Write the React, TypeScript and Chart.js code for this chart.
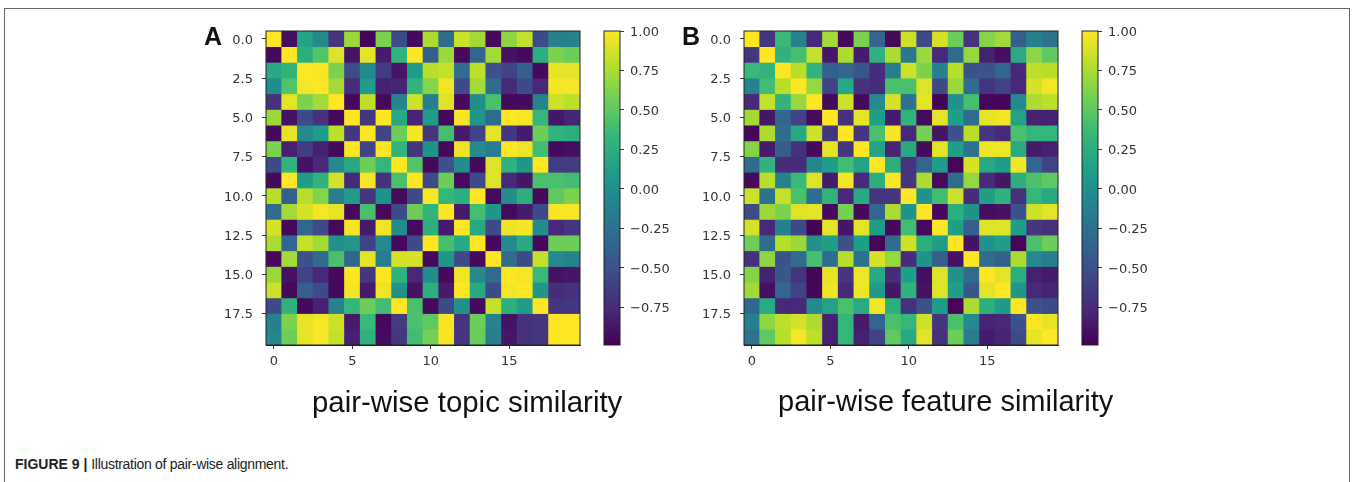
import React, { useEffect, useRef } from "react";
import { Chart, registerables } from "chart.js";

Chart.register(...registerables);

const topicSimilarity: number[][] = [
  [1, -0.92, 0.15, -0.05, -0.7, 0.7, -0.97, 0.6, -0.55, -0.95, 0.75, -0.3, 0.85, 0.72, -0.95, 0.65, 0.82, -0.55, -0.12, -0.1],
  [-0.95, 1, 0.25, 0.45, 0.9, -0.9, 0.92, -0.85, 0.3, 1, -0.4, 0.7, -0.95, -0.35, 0.72, -0.9, -0.95, 0.25, 0.6, 0.55],
  [0.2, 0.3, 1, 0.98, 0.6, -0.55, -0.05, -0.65, -0.88, 0.1, 0.78, 0.82, -0.3, 0.8, -0.5, -0.6, -0.4, -0.95, 0.93, 0.93],
  [-0.02, 0.45, 0.97, 1, 0.72, -0.75, 0.1, -0.82, -0.8, 0.3, 0.62, 0.95, -0.55, 0.72, -0.3, -0.78, -0.55, -0.78, 0.98, 0.98],
  [-0.72, 0.92, 0.6, 0.72, 1, -0.95, 0.8, -0.95, -0.1, 0.85, -0.15, 0.9, -0.95, -0.02, 0.42, -0.95, -0.95, -0.1, 0.85, 0.8],
  [0.7, -0.9, -0.55, -0.72, -0.95, 1, -0.68, 1, 0.2, -0.8, 0.1, -0.95, 0.98, 0.05, -0.3, 1, 0.97, 0.32, -0.88, -0.8],
  [-0.95, 0.93, -0.05, 0.1, 0.8, -0.68, 1, -0.6, 0.55, 0.98, -0.7, 0.4, -0.85, -0.6, 0.92, -0.68, -0.85, 0.55, 0.3, 0.25],
  [0.6, -0.82, -0.65, -0.82, -0.95, 1, -0.6, 1, 0.3, -0.7, 0.02, -0.95, 0.95, -0.05, -0.15, 1, 0.95, 0.38, -0.95, -0.92],
  [-0.55, 0.3, -0.9, -0.78, -0.05, 0.2, 0.55, 0.32, 1, 0.45, -0.95, -0.5, -0.02, -0.95, 0.9, 0.28, 0.05, 1, -0.65, -0.65],
  [-0.95, 1, 0.1, 0.28, 0.88, -0.78, 0.97, -0.72, 0.42, 1, -0.55, 0.55, -0.95, -0.55, 0.9, -0.78, -0.88, 0.42, 0.42, 0.38],
  [0.78, -0.4, 0.78, 0.62, -0.15, 0.1, -0.7, 0.02, -0.95, -0.55, 1, 0.32, 0.25, 1, -0.95, -0.02, 0.25, -0.95, 0.5, 0.6],
  [-0.3, 0.72, 0.88, 0.97, 0.92, -0.95, 0.42, -0.95, -0.55, 0.55, 0.3, 1, -0.85, 0.4, 0.05, -0.95, -0.85, -0.55, 0.98, 0.98],
  [0.88, -0.95, -0.35, -0.55, -0.95, 0.97, -0.85, 0.95, -0.02, -0.95, 0.25, -0.85, 1, 0.2, -0.55, 0.95, 0.98, -0.02, -0.78, -0.68],
  [0.75, -0.35, 0.82, 0.72, 0, 0.05, -0.6, -0.05, -0.95, -0.55, 1, 0.4, 0.2, 1, -0.95, -0.05, 0.2, -0.95, 0.55, 0.55],
  [-0.95, 0.72, -0.5, -0.3, 0.42, -0.35, 0.92, -0.15, 0.88, 0.88, -0.95, 0.05, -0.55, -0.95, 1, -0.3, -0.55, 0.82, -0.05, -0.1],
  [0.7, -0.9, -0.6, -0.78, -0.95, 1, -0.68, 1, 0.28, -0.78, -0.02, -0.95, 0.95, -0.05, -0.3, 1, 0.97, 0.35, -0.9, -0.88],
  [0.85, -0.95, -0.4, -0.55, -0.95, 0.97, -0.85, 0.95, 0.02, -0.9, 0.25, -0.85, 1, 0.2, -0.55, 0.97, 1, 0.05, -0.75, -0.72],
  [-0.55, 0.28, -0.95, -0.82, -0.1, 0.32, 0.55, 0.38, 1, 0.42, -0.95, -0.55, 0, -0.95, 0.82, 0.25, 0.1, 1, -0.7, -0.68],
  [-0.12, 0.6, 0.93, 0.98, 0.85, -0.85, 0.35, -0.95, -0.65, 0.42, 0.5, 0.98, -0.7, 0.55, -0.1, -0.9, -0.72, -0.7, 1, 1],
  [-0.08, 0.55, 0.93, 0.98, 0.82, -0.82, 0.28, -0.93, -0.68, 0.38, 0.58, 0.98, -0.68, 0.55, -0.15, -0.88, -0.72, -0.68, 1, 1],
];

const featureSimilarity: number[][] = [
  [1, -0.68, 0.35, -0.1, -0.78, 0.72, -0.95, 0.6, -0.35, -0.95, 0.85, -0.55, 0.88, 0.55, -0.72, 0.62, 0.72, -0.4, -0.12, -0.25],
  [-0.68, 1, 0.28, 0.4, 0.82, -0.88, 0.75, -0.85, 0.28, 0.75, -0.2, 0.7, -0.78, -0.3, 0.68, -0.82, -0.92, 0.22, 0.65, 0.5],
  [0.35, 0.3, 1, 0.78, 0.3, -0.4, -0.35, -0.45, -0.75, -0.15, 0.85, 0.6, -0.12, 0.78, -0.48, -0.5, -0.35, -0.78, 0.8, 0.78],
  [-0.1, 0.38, 0.78, 1, 0.68, -0.6, 0.2, -0.72, -0.75, 0.42, 0.42, 0.9, -0.55, 0.7, -0.3, -0.7, -0.6, -0.78, 0.88, 0.97],
  [-0.78, 0.82, 0.3, 0.68, 1, -0.95, 0.85, -0.95, -0.05, 0.88, -0.25, 0.92, -0.98, 0, 0.4, -0.97, -0.97, -0.05, 0.75, 0.8],
  [0.72, -0.88, -0.35, -0.6, -0.95, 1, -0.72, 0.93, 0.12, -0.85, 0.3, -0.95, 0.92, 0.12, -0.3, 0.93, 0.95, 0.15, -0.82, -0.82],
  [-0.97, 0.75, -0.3, 0.2, 0.85, -0.7, 1, -0.68, 0.42, 0.98, -0.78, 0.58, -0.88, -0.5, 0.78, -0.68, -0.78, 0.42, 0.32, 0.32],
  [0.62, -0.85, -0.42, -0.72, -0.95, 0.92, -0.68, 1, 0.15, -0.8, 0.2, -0.95, 0.92, 0.12, -0.25, 0.95, 0.95, 0.22, -0.85, -0.82],
  [-0.3, 0.28, -0.75, -0.75, -0.08, 0.1, 0.38, 0.15, 1, 0.25, -0.7, -0.35, 0.1, -0.97, 0.88, 0.2, 0.1, 0.97, -0.35, -0.6],
  [-0.95, 0.78, -0.1, 0.35, 0.9, -0.85, 0.97, -0.78, 0.25, 1, -0.68, 0.75, -0.95, -0.3, 0.68, -0.75, -0.88, 0.25, 0.42, 0.5],
  [0.85, -0.25, 0.82, 0.42, -0.28, 0.3, -0.78, 0.2, -0.7, -0.68, 1, 0.02, 0.38, 0.85, -0.75, 0.12, 0.28, -0.72, 0.32, 0.2],
  [-0.55, 0.7, 0.6, 0.9, 0.92, -0.95, 0.58, -0.95, -0.35, 0.75, 0.02, 1, -0.95, 0.25, 0.02, -0.92, -0.9, -0.5, 0.85, 0.92],
  [0.88, -0.78, -0.12, -0.55, -0.98, 0.92, -0.88, 0.92, 0.1, -0.95, 0.38, -0.95, 1, 0.12, -0.4, 0.9, 0.9, 0.12, -0.68, -0.72],
  [0.55, -0.3, 0.78, 0.7, 0, 0.12, -0.5, 0.12, -0.97, -0.3, 0.85, 0.25, 0.1, 1, -0.9, 0.02, 0.12, -0.97, 0.42, 0.55],
  [-0.72, 0.65, -0.48, -0.3, 0.4, -0.3, 0.78, -0.25, 0.88, 0.68, -0.75, 0.02, -0.4, -0.9, 1, -0.3, -0.4, 0.75, -0.05, -0.15],
  [0.62, -0.82, -0.45, -0.7, -0.97, 0.93, -0.68, 0.95, 0.2, -0.75, 0.12, -0.92, 0.9, 0.02, -0.3, 1, 0.92, 0.25, -0.82, -0.85],
  [0.72, -0.92, -0.35, -0.6, -0.97, 0.95, -0.78, 0.95, 0.08, -0.88, 0.28, -0.9, 0.9, 0.12, -0.45, 0.92, 1, 0.05, -0.78, -0.8],
  [-0.35, 0.22, -0.78, -0.78, -0.05, 0.15, 0.42, 0.22, 0.97, 0.25, -0.72, -0.5, 0.1, -0.97, 0.75, 0.25, 0.08, 1, -0.5, -0.55],
  [-0.12, 0.65, 0.8, 0.88, 0.75, -0.82, 0.32, -0.85, -0.35, 0.42, 0.32, 0.85, -0.68, 0.42, -0.05, -0.8, -0.78, -0.5, 1, 0.93],
  [-0.25, 0.5, 0.78, 0.97, 0.8, -0.82, 0.32, -0.82, -0.6, 0.5, 0.2, 0.92, -0.72, 0.55, -0.15, -0.85, -0.8, -0.55, 0.93, 1],
];

const axisTicksY = [0, 2.5, 5, 7.5, 10, 12.5, 15, 17.5];
const axisTicksX = [0, 5, 10, 15];
const colorbarTicks = [1, 0.75, 0.5, 0.25, 0, -0.25, -0.5, -0.75];
const colorbarRange: [number, number] = [-0.99, 1];
const viridis = ["#440154", "#482878", "#3e4a89", "#31688e", "#26828e", "#1f9e89", "#35b779", "#6ece58", "#b5de2b", "#fde725"];

const FONT = "'DejaVu Sans'";
const TICK_COLOR = "#333333";

function hexRgb(h: string): number[] {
  return [1, 3, 5].map((i) => parseInt(h.slice(i, i + 2), 16));
}

function colorFor(v: number): string {
  const t = Math.max(0, Math.min(1, (v + 1) / 2)) * (viridis.length - 1);
  const i = Math.min(Math.floor(t), viridis.length - 2);
  const a = hexRgb(viridis[i]);
  const b = hexRgb(viridis[i + 1]);
  const f = t - i;
  const c = a.map((x, k) => Math.round(x + (b[k] - x) * f));
  return `rgb(${c[0]},${c[1]},${c[2]})`;
}

const framePlugin = {
  id: "frame",
  afterDraw(chart: any) {
    const { ctx, chartArea: a } = chart;
    ctx.save();
    ctx.strokeStyle = "#222222";
    ctx.lineWidth = 1;
    ctx.strokeRect(a.left, a.top, a.right - a.left, a.bottom - a.top);
    ctx.restore();
  },
};

function noOverhang(axis: any) {
  axis.paddingLeft = 0;
  axis.paddingRight = 0;
  axis.paddingTop = 0;
  axis.paddingBottom = 0;
}

const tickFont = { family: FONT, size: 13 };

function Heatmap({ matrix, left, top }: { matrix: number[][]; left: number; top: number }) {
  const ref = useRef<HTMLCanvasElement>(null);
  useEffect(() => {
    const chart = new Chart(ref.current!, {
      type: "bar",
      data: {
        datasets: matrix.map((row, r) => ({
          data: row.map((_, c) => ({ x: c, y: [r - 0.5, r + 0.5] })),
          backgroundColor: row.map(colorFor),
          borderWidth: 0,
          grouped: false,
          barPercentage: 1,
          categoryPercentage: 1,
        })),
      },
      options: {
        responsive: false,
        animation: false,
        layout: { padding: { top: 10, right: 10, left: 0, bottom: 0 } },
        plugins: { legend: { display: false }, tooltip: { enabled: false } },
        scales: {
          x: {
            type: "linear",
            offset: false,
            min: -0.5,
            max: 19.5,
            afterBuildTicks(axis: any) {
              axis.ticks = axisTicksX.map((value) => ({ value }));
            },
            afterFit(axis: any) {
              axis.height = 40;
              noOverhang(axis);
            },
            grid: { offset: false, drawOnChartArea: false, tickLength: 4, tickColor: TICK_COLOR, drawTicks: true },
            border: { color: "#222222" },
            ticks: { font: tickFont, color: TICK_COLOR, padding: 5, maxRotation: 0, callback: (v: any) => String(v) },
          },
          y: {
            type: "linear",
            reverse: true,
            min: -0.5,
            max: 19.5,
            afterBuildTicks(axis: any) {
              axis.ticks = axisTicksY.map((value) => ({ value }));
            },
            afterFit(axis: any) {
              axis.width = 60;
              noOverhang(axis);
            },
            grid: { drawOnChartArea: false, tickLength: 4, tickColor: TICK_COLOR },
            border: { color: "#222222" },
            ticks: { font: tickFont, color: TICK_COLOR, padding: 9, labelOffset: 1.5, callback: (v: any) => Number(v).toFixed(1) },
          },
        },
      } as any,
      plugins: [framePlugin],
    } as any);
    return () => chart.destroy();
  }, []);
  return <canvas ref={ref} width={384} height={364} style={{ position: "absolute", left: left - 60, top: top - 10, filter: "blur(0.4px)" }} />;
}

function Colorbar({ left, top }: { left: number; top: number }) {
  const ref = useRef<HTMLCanvasElement>(null);
  useEffect(() => {
    const chart = new Chart(ref.current!, {
      type: "bar",
      data: {
        labels: ["similarity"],
        datasets: [
          {
            data: [colorbarRange],
            borderWidth: 0,
            barPercentage: 1,
            categoryPercentage: 1,
            backgroundColor(ctx: any) {
              const y = ctx.chart.scales.y;
              if (!ctx.chart.chartArea || !y) return viridis[0];
              const g = ctx.chart.ctx.createLinearGradient(0, y.getPixelForValue(colorbarRange[0]), 0, y.getPixelForValue(colorbarRange[1]));
              viridis.forEach((c, i) => g.addColorStop(i / (viridis.length - 1), c));
              return g;
            },
          },
        ],
      },
      options: {
        responsive: false,
        animation: false,
        layout: { padding: { top: 10, right: 0, left: 1, bottom: 5 } },
        plugins: { legend: { display: false }, tooltip: { enabled: false } },
        scales: {
          x: { display: false, offset: true },
          y: {
            position: "right",
            min: colorbarRange[0],
            max: colorbarRange[1],
            afterBuildTicks(axis: any) {
              axis.ticks = colorbarTicks.map((value) => ({ value }));
            },
            afterFit(axis: any) {
              axis.width = 60;
              noOverhang(axis);
            },
            grid: { drawOnChartArea: false, tickLength: 4, tickColor: TICK_COLOR },
            border: { display: false },
            ticks: {
              font: tickFont,
              color: TICK_COLOR,
              padding: 6,
              labelOffset: 1.5,
              callback: (v: any) => {
                const n = Number(v);
                return (n < 0 ? "\u2212" : "") + Math.abs(n).toFixed(2);
              },
            },
          },
        },
      } as any,
      plugins: [framePlugin],
    } as any);
    return () => chart.destroy();
  }, []);
  return <canvas ref={ref} width={77} height={329} style={{ position: "absolute", left: left - 1, top: top - 10, filter: "blur(0.4px)" }} />;
}

function Label({ text, left, top, size, weight }: { text: string; left: number; top: number; size: number; weight?: number }) {
  return (
    <div
      style={{
        position: "absolute",
        left,
        top,
        fontFamily: "'Liberation Sans'",
        fontSize: size,
        fontWeight: weight ?? 400,
        color: "#111",
        lineHeight: 1,
        whiteSpace: "nowrap",
      }}
    >
      {text}
    </div>
  );
}

export default function App() {
  return (
    <div style={{ position: "fixed", left: 0, top: 0, width: 1352, height: 482, background: "#fff", overflow: "hidden" }}>
      <div style={{ position: "absolute", left: 4, top: 8, width: 1344, height: 480, border: "1px solid #666", borderBottom: "none" }} />
      <Heatmap matrix={topicSimilarity} left={266} top={31} />
      <Colorbar left={604} top={31} />
      <Heatmap matrix={featureSimilarity} left={744} top={31} />
      <Colorbar left={1082} top={31} />
      <Label text="A" left={204} top={24} size={25} weight={700} />
      <Label text="B" left={682} top={24} size={25} weight={700} />
      <Label text="pair-wise topic similarity" left={312} top={387} size={29.4} />
      <Label text="pair-wise feature similarity" left={778} top={387} size={29} />
      <div style={{ position: "absolute", left: 15, top: 457, fontFamily: "'Liberation Sans'", fontSize: 14, color: "#222", whiteSpace: "nowrap", lineHeight: 1 }}>
        <b>FIGURE 9 | </b>
        <span style={{ letterSpacing: -0.3 }}>Illustration of pair-wise alignment.</span>
      </div>
    </div>
  );
}
